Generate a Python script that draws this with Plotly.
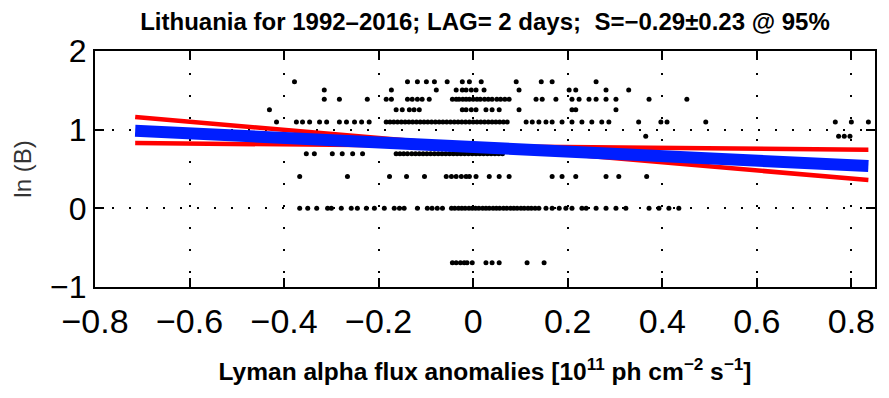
import plotly.graph_objects as go

# ---------------- data ----------------
x_ticks = [-0.8, -0.6, -0.4, -0.2, 0, 0.2, 0.4, 0.6, 0.8]
x_tick_text = ["\u22120.8", "\u22120.6", "\u22120.4", "\u22120.2", "0", "0.2", "0.4", "0.6", "0.8"]
y_ticks = [-1, 0, 1, 2]
y_tick_text = ["\u22121", "0", "1", "2"]

# ln(B) levels and the x positions of the points on each level
lnb_m069_x = [-0.044, -0.036, -0.027, -0.019, -0.013, -0.002, 0.027, 0.040, 0.055, 0.114, 0.150]
lnb_000_x = [-0.367, -0.350, -0.331, -0.308, -0.300, -0.279, -0.258, -0.245, -0.226, -0.209,
             -0.188, -0.167, -0.156, -0.146, -0.118, -0.097, -0.087, -0.076, -0.065,
             -0.046, -0.039, -0.031, -0.024, -0.017, -0.009, -0.002, 0.005, 0.012, 0.020,
             0.027, 0.034, 0.042, 0.049, 0.056, 0.064, 0.071, 0.079, 0.086, 0.093, 0.101,
             0.108, 0.116, 0.123, 0.131, 0.139, 0.154, 0.167, 0.182, 0.196, 0.209, 0.230,
             0.239, 0.260, 0.281, 0.302, 0.323, 0.372, 0.393, 0.414, 0.435]
lnb_041_x = [-0.367, -0.266, -0.177, -0.141, -0.103, -0.057, -0.046, -0.036, -0.025, -0.015,
             -0.008, 0.006, 0.034, 0.055, 0.076, 0.167, 0.188, 0.217, 0.281, 0.308, 0.367]
lnb_069_x = [-0.353, -0.336, -0.298, -0.277, -0.255, -0.234, -0.163, -0.155, -0.147, -0.139,
             -0.130, -0.122, -0.114, -0.106, -0.098, -0.090, -0.082, -0.074, -0.066, -0.058,
             -0.050, -0.042, -0.034, -0.026, -0.018, -0.010, -0.002, 0.006, 0.014, 0.022,
             0.030, 0.038, 0.046, 0.054, 0.062]
lnb_092_x = [0.365, 0.773, 0.785, 0.797]
lnb_110_x = [-0.416, -0.374, -0.361, -0.346, -0.325, -0.310, -0.283, -0.268, -0.251, -0.236,
             -0.220, -0.184, -0.176, -0.168, -0.160, -0.152, -0.144, -0.136, -0.128, -0.120,
             -0.112, -0.104, -0.096, -0.088, -0.080, -0.072, -0.064, -0.056, -0.048, -0.040,
             -0.032, -0.024, -0.016, -0.008, 0.000, 0.008, 0.016, 0.024, 0.032, 0.040, 0.048,
             0.056, 0.064, 0.072, 0.112, 0.125, 0.139, 0.154, 0.167, 0.188, 0.209, 0.230,
             0.251, 0.272, 0.287, 0.350, 0.397, 0.410, 0.492, 0.766, 0.800, 0.836]
lnb_125_x = [-0.431, -0.163, -0.150, -0.135, -0.125, -0.114, -0.023, -0.015, -0.004, 0.006,
             0.027, 0.040, 0.055, 0.097, 0.209, 0.217, 0.302]
lnb_139_x = [-0.315, -0.283, -0.224, -0.184, -0.173, -0.139, -0.129, -0.118, -0.108, -0.093,
             -0.044, -0.036, -0.030, -0.022, -0.015, -0.008, 0.000, 0.008, 0.015, 0.024,
             0.032, 0.040, 0.050, 0.058, 0.067, 0.076, 0.133, 0.146, 0.175, 0.209, 0.224,
             0.245, 0.260, 0.281, 0.302, 0.372, 0.452]
lnb_150_x = [-0.315, -0.173, -0.078, -0.036, -0.023, -0.015, -0.004, 0.006, 0.023, 0.097,
             0.203, 0.217, 0.281, 0.329]
lnb_161_x = [-0.378, -0.139, -0.118, -0.099, -0.082, -0.055, -0.023, -0.008, 0.017, 0.091,
             0.144, 0.167, 0.260]

levels = [(-0.693, lnb_m069_x), (0.0, lnb_000_x), (0.405, lnb_041_x), (0.693, lnb_069_x),
          (0.916, lnb_092_x), (1.099, lnb_110_x), (1.253, lnb_125_x), (1.386, lnb_139_x),
          (1.504, lnb_150_x), (1.609, lnb_161_x)]

# regression line and the two slope-limit lines (S = -0.29 +/- 0.23)
fit_x = [-0.715, 0.836]
fit_y = [0.987, 0.538]
lim_steep_y = [1.16, 0.36]
lim_flat_y = [0.83, 0.745]

# ---------------- figure ----------------
pts_x, pts_y = [], []
for lvl, xs in levels:
    pts_x += xs
    pts_y += [lvl] * len(xs)

fig = go.Figure()
fig.add_trace(go.Scatter(x=pts_x, y=pts_y, mode="markers",
                         marker=dict(color="black", size=5), hoverinfo="skip"))
fig.add_trace(go.Scatter(x=fit_x, y=lim_steep_y, mode="lines",
                         line=dict(color="#ff0000", width=4.5)))
fig.add_trace(go.Scatter(x=fit_x, y=lim_flat_y, mode="lines",
                         line=dict(color="#ff0000", width=4.5)))
fig.add_trace(go.Scatter(x=fit_x, y=fit_y, mode="lines",
                         line=dict(color="rgb(0,30,255)", width=12)))

font_main = "Liberation Sans, Arial, Helvetica, sans-serif"

fig.update_layout(
    width=889, height=398,
    margin=dict(l=95, r=12, t=51, b=111),
    paper_bgcolor="white", plot_bgcolor="white",
    showlegend=False,
    font=dict(family=font_main, color="black"),
    title=dict(
        text="<b>Lithuania for 1992\u20132016; LAG= 2 days;  S=\u22120.29\u00b10.23 @ 95%</b>",
        x=0.5, xref="paper", xanchor="center",
        y=1 - 22 / 398, yref="container", yanchor="middle",
        font=dict(size=24, family=font_main, color="black"),
    ),
    xaxis=dict(
        range=[-0.8, 0.85], tickvals=x_ticks, ticktext=x_tick_text,
        ticks="inside", ticklen=9, tickwidth=2, tickcolor="black",
        showline=True, linecolor="black", linewidth=2, mirror="ticks",
        showgrid=True, gridcolor="black", gridwidth=2, griddash="2px,20px",
        zeroline=False, ticklabelstandoff=3,
        tickfont=dict(size=34, family=font_main, color="black"),
        title=dict(text="<b>Lyman alpha flux anomalies [10<sup>11</sup> ph cm<sup>\u22122</sup> s<sup>\u22121</sup>]</b>",
                   font=dict(size=24.5, family=font_main, color="black"), standoff=24),
    ),
    yaxis=dict(
        range=[-1, 2], tickvals=y_ticks, ticktext=y_tick_text,
        ticks="inside", ticklen=9, tickwidth=2, tickcolor="black",
        showline=True, linecolor="black", linewidth=2, mirror="ticks",
        showgrid=True, gridcolor="black", gridwidth=2, griddash="2px,15px",
        zeroline=False,
        tickfont=dict(size=32, family=font_main, color="black"),
        title=dict(text="ln (B)", font=dict(size=24, family=font_main, color="#333333"),
                   standoff=12),
    ),
)

fig.write_html("out.html")
